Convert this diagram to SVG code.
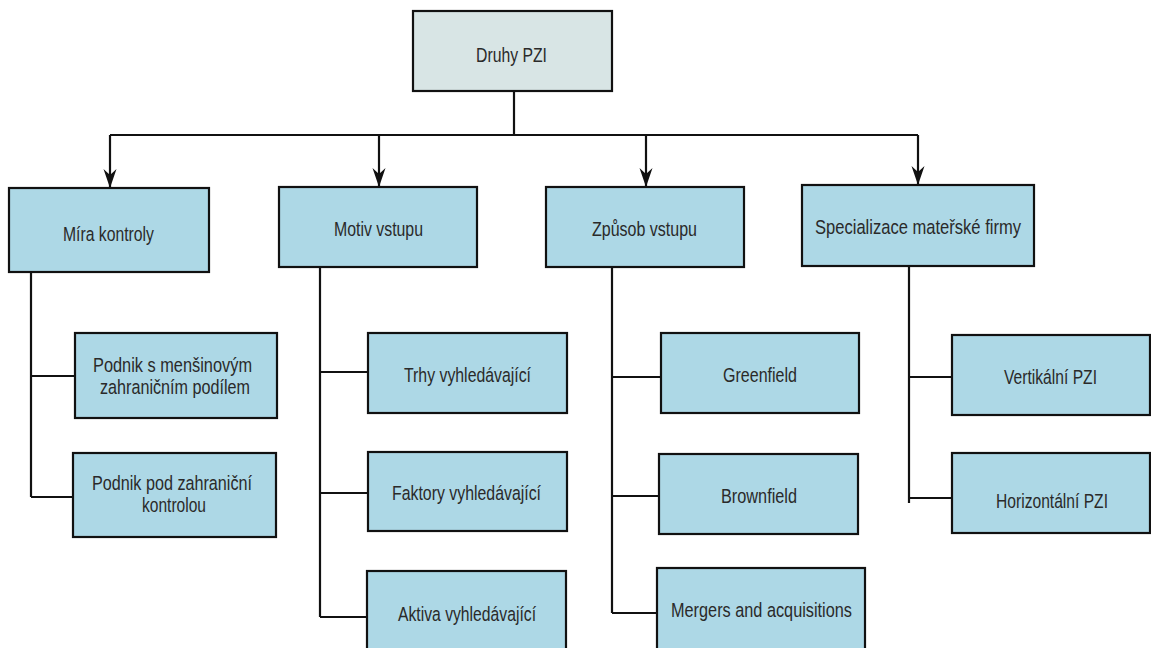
<svg xmlns="http://www.w3.org/2000/svg" width="1151" height="648" viewBox="0 0 1151 648">
<style>
.box{fill:#add8e6;stroke:#111;stroke-width:2.2}
.root{fill:#d8e5e5;stroke:#111;stroke-width:2.2}
.ln{fill:none;stroke:#111;stroke-width:2.2}
text{font-family:"Liberation Sans",Arial,sans-serif;font-size:20.5px;fill:#2a2a2a;text-anchor:middle}
</style>
<defs>
<marker id="arr" markerUnits="userSpaceOnUse" markerWidth="22" markerHeight="16" refX="20" refY="7" orient="auto" viewBox="0 0 22 14">
<path d="M1,0.5 L7,7 L1,13.5 L20,7 Z" fill="#111"/>
</marker>
</defs>
<rect width="1151" height="648" fill="#fff"/>
<g id="connectors">
<path class="ln" d="M514,91 V135"/>
<path class="ln" d="M110,135 H918"/>
<path class="ln" d="M110,135 V188" marker-end="url(#arr)"/>
<path class="ln" d="M379,135 V187" marker-end="url(#arr)"/>
<path class="ln" d="M646,135 V187" marker-end="url(#arr)"/>
<path class="ln" d="M918,135 V185" marker-end="url(#arr)"/>
<path class="ln" d="M31,272 V497 M31,376 H75 M31,497 H73"/>
<path class="ln" d="M320,267 V617 M320,372 H368 M320,493 H368 M320,617 H367"/>
<path class="ln" d="M612,267 V613 M612,377 H661 M612,496 H659 M612,613 H657"/>
<path class="ln" d="M909,266 V503 M909,377 H952 M909,498 H952"/>
</g>
<g id="root"><rect class="root" x="413" y="11" width="199" height="80"/><text x="511.5" y="62" textLength="71" lengthAdjust="spacingAndGlyphs">Druhy PZI</text></g>
<g id="mira"><rect class="box" x="9" y="188" width="200" height="84"/><text x="108.5" y="241" textLength="91" lengthAdjust="spacingAndGlyphs">Míra kontroly</text></g>
<g id="motiv"><rect class="box" x="279" y="187" width="198" height="80"/><text x="378.5" y="236" textLength="89" lengthAdjust="spacingAndGlyphs">Motiv vstupu</text></g>
<g id="zpusob"><rect class="box" x="546" y="187" width="198" height="80"/><text x="644.5" y="236" textLength="105" lengthAdjust="spacingAndGlyphs">Způsob vstupu</text></g>
<g id="specializace"><rect class="box" x="802" y="185" width="232" height="81"/><text x="918" y="234" textLength="206" lengthAdjust="spacingAndGlyphs">Specializace mateřské firmy</text></g>
<g id="mensinovy"><rect class="box" x="75" y="333" width="202" height="85"/><text x="172.5" y="372" textLength="159" lengthAdjust="spacingAndGlyphs">Podnik s menšinovým</text><text x="175" y="394" textLength="150" lengthAdjust="spacingAndGlyphs">zahraničním podílem</text></g>
<g id="kontrola"><rect class="box" x="73" y="453" width="203" height="84"/><text x="172" y="490" textLength="160" lengthAdjust="spacingAndGlyphs">Podnik pod zahraniční</text><text x="174" y="512" textLength="64" lengthAdjust="spacingAndGlyphs">kontrolou</text></g>
<g id="trhy"><rect class="box" x="368" y="333" width="199" height="80"/><text x="467.5" y="382" textLength="127" lengthAdjust="spacingAndGlyphs">Trhy vyhledávající</text></g>
<g id="faktory"><rect class="box" x="368" y="452" width="199" height="79"/><text x="466.5" y="500" textLength="149" lengthAdjust="spacingAndGlyphs">Faktory vyhledávající</text></g>
<g id="aktiva"><rect class="box" x="367" y="571" width="199" height="85"/><text x="467" y="621" textLength="138" lengthAdjust="spacingAndGlyphs">Aktiva vyhledávající</text></g>
<g id="greenfield"><rect class="box" x="661" y="333" width="198" height="80"/><text x="760" y="382" textLength="74" lengthAdjust="spacingAndGlyphs">Greenfield</text></g>
<g id="brownfield"><rect class="box" x="659" y="454" width="199" height="80"/><text x="759" y="503" textLength="76" lengthAdjust="spacingAndGlyphs">Brownfield</text></g>
<g id="mergers"><rect class="box" x="657" y="568" width="208" height="90"/><text x="761.5" y="617" textLength="181" lengthAdjust="spacingAndGlyphs">Mergers and acquisitions</text></g>
<g id="vertikalni"><rect class="box" x="952" y="335" width="198" height="80"/><text x="1050.5" y="384" textLength="93" lengthAdjust="spacingAndGlyphs">Vertikální PZI</text></g>
<g id="horizontalni"><rect class="box" x="952" y="453" width="198" height="80"/><text x="1052" y="508" textLength="112" lengthAdjust="spacingAndGlyphs">Horizontální PZI</text></g>
</svg>
